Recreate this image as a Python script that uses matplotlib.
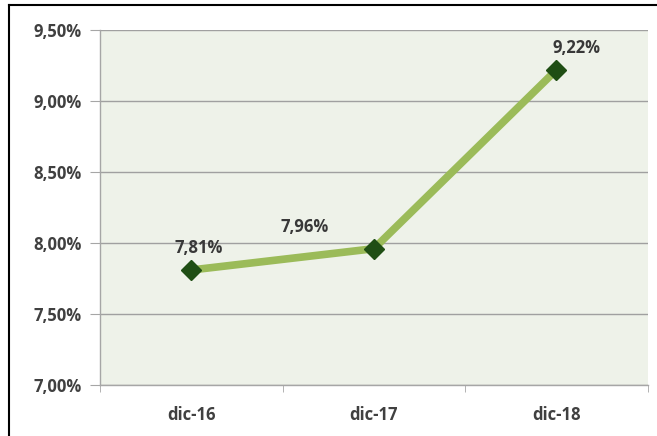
import matplotlib
matplotlib.use("Agg")
import matplotlib.pyplot as plt
from matplotlib.lines import Line2D
from matplotlib.ticker import FuncFormatter, FixedLocator

# data
categories = ["dic-16", "dic-17", "dic-18"]
values = [7.81, 7.96, 9.22]
value_labels = ["7,81%", "7,96%", "9,22%"]
y_ticks = [7.0, 7.5, 8.0, 8.5, 9.0, 9.5]

plt.rcParams["font.family"] = ["Open Sans", "DejaVu Sans"]

fig = plt.figure(figsize=(6.57, 4.36), dpi=100)
ax = fig.add_axes([0.152, 0.117, 0.834, 0.814])

x = list(range(len(categories)))
ax.plot(x, values, color="#9BBB59", linewidth=5.5, solid_capstyle="round", zorder=3)
ax.plot(x, values, linestyle="none", marker="D", markersize=10,
        markerfacecolor="#1F4E14", markeredgecolor="#1F4E14", zorder=4)

# data labels (offsets from the point, in data units)
offsets = [(0.04, 0.155), (-0.38, 0.15), (0.11, 0.155)]
for xi, v, lab, (dx, dy) in zip(x, values, value_labels, offsets):
    ax.text(xi + dx, v + dy, lab, ha="center", va="center", fontsize=12,
            fontweight="bold", color="#383838", zorder=5)

ax.set_xlim(-0.5, len(categories) - 0.5)
ax.set_ylim(7.0, 9.5)
ax.set_facecolor("#EEF2E9")

ax.yaxis.set_major_locator(FixedLocator(y_ticks))
ax.yaxis.set_major_formatter(FuncFormatter(lambda v, p: f"{v:.2f}".replace(".", ",") + "%"))
ax.set_xticks(x)
ax.set_xticklabels(categories)
ax.set_xticks([-0.5, 0.5, 1.5, 2.5], minor=True)
ax.tick_params(axis="x", which="major", length=0, pad=15)
ax.tick_params(axis="x", which="minor", length=5, color="#A6A6A6", direction="out")
ax.tick_params(axis="y", length=7, color="#A6A6A6", pad=6)
for lab in ax.get_xticklabels() + ax.get_yticklabels():
    lab.set_fontweight("bold")
    lab.set_fontsize(12)
    lab.set_color("#404040")

ax.grid(axis="y", color="#A0A0A0", linewidth=1.0)
ax.set_axisbelow(True)
for side in ["top", "right"]:
    ax.spines[side].set_visible(False)
for side in ["left", "bottom"]:
    ax.spines[side].set_color("#A6A6A6")
    ax.spines[side].set_linewidth(1.0)

# outer chart border (top and left visible in the crop)
fig.add_artist(Line2D([0.014, 1.0], [0.988, 0.988], color="black", linewidth=1.5,
                      transform=fig.transFigure))
fig.add_artist(Line2D([0.014, 0.014], [0.0, 0.988], color="black", linewidth=1.5,
                      transform=fig.transFigure))

fig.savefig("out.png", dpi=100)
